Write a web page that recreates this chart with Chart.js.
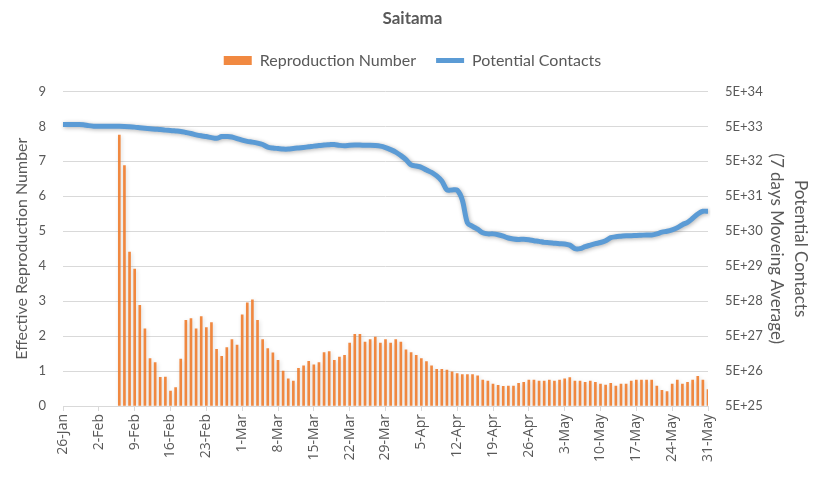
<!DOCTYPE html>
<html>
<head>
<meta charset="utf-8">
<script src="https://cdn.jsdelivr.net/npm/chart.js@4"></script>
<style>
  html, body { margin: 0; padding: 0; background: #fff; }
  #wrap { width: 817px; height: 484px; }
</style>
</head>
<body>
<div id="wrap"><canvas id="myChart" width="817" height="484"></canvas></div>
<script>
// categories: every day from 26-Jan to 31-May
const startDate = new Date(2020, 0, 26);
const dayCount = 127;
const months = ['Jan','Feb','Mar','Apr','May','Jun'];
const days = [];
for (let i = 0; i < dayCount; i++) {
  const d = new Date(startDate.getFullYear(), startDate.getMonth(), startDate.getDate() + i);
  days.push(d.getDate() + '-' + months[d.getMonth()]);
}

// Effective reproduction number (left axis)
const reproduction = [
  null, null, null, null, null, null, null, null, null, null, null,
  // 6-Feb .. 29-Feb
  7.75, 6.88, 4.4, 3.92, 2.88, 2.21, 1.36, 1.24, 0.82, 0.83, 0.43, 0.53,
  1.34, 2.45, 2.5, 2.21, 2.56, 2.24, 2.39, 1.62, 1.42, 1.67, 1.9, 1.74,
  // March
  2.61, 2.95, 3.04, 2.45, 1.9, 1.64, 1.52, 1.31, 1.0, 0.78, 0.71, 1.08,
  1.15, 1.28, 1.18, 1.24, 1.53, 1.56, 1.31, 1.4, 1.45, 1.8, 2.05, 2.05,
  1.83, 1.9, 1.97, 1.8, 1.9, 1.8, 1.9,
  // April
  1.83, 1.61, 1.53, 1.45, 1.36, 1.27, 1.15, 1.05, 1.05, 1.03, 0.98, 0.93,
  0.9, 0.9, 0.9, 0.86, 0.74, 0.71, 0.63, 0.59, 0.56, 0.57, 0.57, 0.65,
  0.68, 0.74, 0.74, 0.71, 0.71, 0.74,
  // May
  0.71, 0.74, 0.78, 0.81, 0.71, 0.71, 0.68, 0.71, 0.68, 0.63, 0.6, 0.65,
  0.57, 0.63, 0.63, 0.71, 0.74, 0.74, 0.74, 0.74, 0.57, 0.45, 0.41, 0.63,
  0.74, 0.63, 0.68, 0.74, 0.85, 0.74, 0.47
];

// Potential contacts, 7 days moving average (right axis, log)
const contacts = [
  5.66e33, 5.66e33, 5.66e33, 5.66e33, 5.59e33, 5.24e33, 5.07e33, 5.07e33, 5.07e33, 5.07e33,
  5.0e33, 5.0e33, 4.97e33, 4.87e33, 4.75e33, 4.59e33, 4.44e33, 4.30e33, 4.16e33, 4.05e33,
  3.90e33, 3.82e33, 3.70e33, 3.58e33, 3.35e33, 3.12e33, 2.86e33, 2.68e33, 2.55e33, 2.38e33,
  2.27e33, 2.55e33, 2.55e33, 2.49e33, 2.23e33, 2.02e33, 1.86e33, 1.77e33, 1.66e33, 1.51e33,
  1.28e33, 1.20e33, 1.16e33, 1.12e33, 1.12e33, 1.17e33, 1.21e33, 1.25e33, 1.30e33, 1.36e33,
  1.41e33, 1.46e33, 1.49e33, 1.52e33, 1.43e33, 1.39e33, 1.44e33, 1.46e33, 1.46e33, 1.43e33,
  1.43e33, 1.41e33, 1.36e33, 1.24e33, 1.08e33, 9.2e32, 7.3e32, 5.6e32, 3.93e32, 3.67e32,
  3.37e32, 2.82e32, 2.40e32, 1.91e32, 1.37e32, 7.6e31, 7.6e31, 7.5e31, 3.94e31, 8.7e30,
  6.9e30, 5.7e30, 4.5e30, 4.2e30, 4.2e30, 3.97e30, 3.6e30, 3.2e30, 3.0e30, 2.9e30,
  2.96e30, 2.86e30, 2.68e30, 2.56e30, 2.40e30, 2.35e30, 2.27e30, 2.2e30, 2.16e30, 2.0e30,
  1.59e30, 1.59e30, 1.81e30, 2.0e30, 2.2e30, 2.38e30, 2.68e30, 3.27e30, 3.48e30, 3.6e30,
  3.72e30, 3.72e30, 3.8e30, 3.85e30, 3.9e30, 3.9e30, 4.2e30, 4.7e30, 5.0e30, 5.5e30,
  6.3e30, 7.7e30, 9.0e30, 1.17e31, 1.55e31, 1.86e31, 1.86e31
];

// right axis ticks: 5E+25 .. 5E+34
const contactExponents = [25, 26, 27, 28, 29, 30, 31, 32, 33, 34];

const textColor = '#595959';
const gridColor = '#D9D9D9';
const fontFamily = 'Lato, "Open Sans", sans-serif';

// gray drop shadow like the Excel styling
const shadowPlugin = {
  id: 'shadow',
  beforeDatasetDraw(chart, args) {
    const c = chart.ctx;
    c.save();
    c.shadowColor = args.index === 0 ? 'rgba(0, 0, 0, 0.3)' : 'rgba(0, 0, 0, 0.16)';
    c.shadowBlur = 4;
    c.shadowOffsetX = 1;
    c.shadowOffsetY = 1;
  },
  afterDatasetDraw(chart) {
    chart.ctx.restore();
  }
};

// some room under the legend
const legendSpace = {
  id: 'legendSpace',
  beforeInit(chart) {
    const fit = chart.legend.fit;
    chart.legend.fit = function() {
      fit.bind(chart.legend)();
      this.height += 13;
    };
  }
};

const ctx = document.getElementById('myChart');

new Chart(ctx, {
  type: 'bar',
  data: {
    labels: days,
    datasets: [
      {
        type: 'line',
        label: 'Potential Contacts',
        data: contacts,
        yAxisID: 'y2',
        borderColor: '#5B9BD5',
        backgroundColor: '#5B9BD5',
        borderWidth: 5,
        pointRadius: 0,
        pointStyle: 'line',
        tension: 0.3,
        order: 0
      },
      {
        label: 'Reproduction Number',
        data: reproduction,
        yAxisID: 'y',
        backgroundColor: 'rgba(240, 124, 44, 0.9)',
        borderWidth: 0,
        barThickness: 2,
        pointStyle: 'rect',
        order: 1
      }
    ]
  },
  options: {
    responsive: false,
    animation: false,
    layout: {
      padding: { left: 12, right: 4, top: 6, bottom: 6 }
    },
    plugins: {
      title: {
        display: true,
        text: 'Saitama',
        color: textColor,
        font: { family: fontFamily, size: 17, weight: 'bold' },
        padding: { top: 2, bottom: 4 }
      },
      legend: {
        display: true,
        position: 'top',
        reverse: true,
        labels: {
          color: textColor,
          font: { family: fontFamily, size: 16 },
          usePointStyle: true,
          pointStyleWidth: 28,
          boxHeight: 9,
          padding: 20
        }
      },
      tooltip: { enabled: false }
    },
    scales: {
      x: {
        offset: false,
        afterFit(axis) { axis.height = 72; },
        grid: {
          display: true,
          offset: false,
          drawOnChartArea: false,
          drawTicks: true,
          tickLength: 5,
          color: gridColor
        },
        border: { display: true, color: gridColor },
        ticks: {
          autoSkip: false,
          maxRotation: 90,
          minRotation: 90,
          padding: 3,
          color: textColor,
          font: { family: '"Open Sans", sans-serif', size: 14 },
          callback(value, index) {
            return index % 7 === 0 ? days[index] : null;
          }
        }
      },
      y: {
        position: 'left',
        min: 0,
        max: 9,
        afterFit(axis) { axis.width = 51; },
        grid: { color: gridColor, drawTicks: false },
        border: { display: false },
        ticks: {
          stepSize: 1,
          padding: 17,
          color: textColor,
          font: { family: fontFamily, size: 13 }
        },
        title: {
          display: true,
          text: 'Effective Reproduction Number',
          color: textColor,
          font: { family: fontFamily, size: 16 },
          padding: { top: 0, bottom: 0 }
        }
      },
      y2: {
        type: 'logarithmic',
        position: 'right',
        min: 5e25,
        max: 5e34,
        afterFit(axis) { axis.width = 105; },
        grid: { drawOnChartArea: false, drawTicks: false },
        border: { display: false },
        afterBuildTicks(axis) {
          axis.ticks = contactExponents.map(e => ({ value: 5 * Math.pow(10, e) }));
        },
        ticks: {
          padding: 17,
          color: textColor,
          font: { family: fontFamily, size: 13 },
          callback(value) {
            return '5E+' + Math.round(Math.log10(value / 5));
          }
        },
        title: {
          display: true,
          text: ['Potential Contacts', '(7 days Moveing Average)'],
          color: textColor,
          font: { family: fontFamily, size: 17, lineHeight: 1.45 },
          padding: { top: 0, bottom: 0 }
        }
      }
    }
  },
  plugins: [shadowPlugin, legendSpace]
});
</script>
</body>
</html>
